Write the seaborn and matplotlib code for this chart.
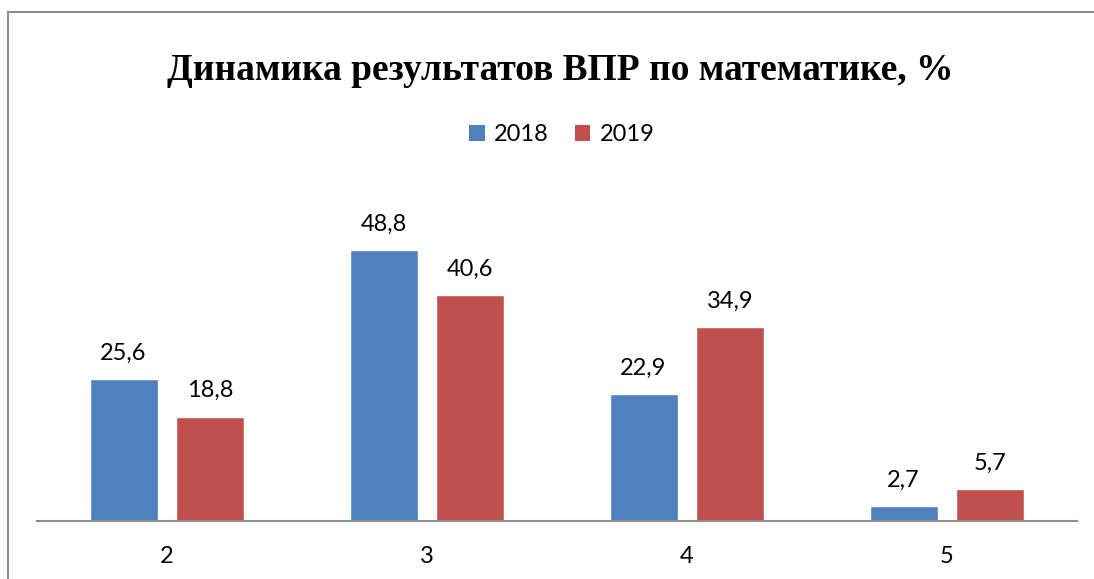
import matplotlib
matplotlib.use("Agg")
import matplotlib.pyplot as plt
import seaborn as sns
import pandas as pd
from matplotlib.patches import Rectangle, Patch

categories = ["2", "3", "4", "5"]
years = ["2018", "2019"]
values_2018 = [25.6, 48.8, 22.9, 2.7]
values_2019 = [18.8, 40.6, 34.9, 5.7]
colors = ["#4F81BD", "#C0504D"]
title = "Динамика результатов ВПР по математике, %"

df = pd.DataFrame({
    "cat": categories * 2,
    "year": [years[0]] * 4 + [years[1]] * 4,
    "val": values_2018 + values_2019,
})

sns.set_theme(style="white")
plt.rcParams["font.family"] = ["Lato", "DejaVu Sans"]
plt.rcParams["text.color"] = "black"
plt.rcParams["xtick.color"] = "black"

W, H = 1094, 579
fig = plt.figure(figsize=(W / 100, H / 100), dpi=100)
ax = fig.add_axes([37 / W, 1 - 521 / H, (1077 - 37) / W, (521 - 180) / H])

sns.barplot(data=df, x="cat", y="val", hue="year", palette=colors,
            width=0.669, gap=0.218, ax=ax, legend=False, saturation=1)

ax.set_xlim(-0.5, 3.5)
ax.set_ylim(0, (521 - 180) / 5.555)
ax.set_xlabel("")
ax.set_ylabel("")
ax.set_yticks([])
for s in ["left", "right", "top"]:
    ax.spines[s].set_visible(False)
ax.spines["bottom"].set_color("#8c8c8c")
ax.spines["bottom"].set_linewidth(1.5)
ax.tick_params(axis="x", length=0, pad=18, labelsize=17, colors="black")

for cont in ax.containers:
    ax.bar_label(cont, labels=[f"{v:.1f}".replace(".", ",") for v in cont.datavalues],
                 padding=11, fontsize=17, color="black")

fig.text(560 / W, 1 - 70 / H, title, ha="center", va="center", color="black",
         fontsize=27, fontweight="bold", family=["Liberation Serif", "DejaVu Serif"])

handles = [Patch(facecolor=c, edgecolor="none") for c in colors]
fig.legend(handles, years, loc="center", bbox_to_anchor=(562 / W, 1 - 135 / H),
           ncol=2, frameon=False, fontsize=17, handlelength=0.65, handleheight=0.65,
           handletextpad=0.4, columnspacing=1.1, labelcolor="black")

fig.patches.append(Rectangle((8 / W, -0.1), 1.2, 1 - 12 / H + 0.1, transform=fig.transFigure,
                             fill=False, edgecolor="#8c8c8c", linewidth=1.5))

fig.savefig("out.png", dpi=100)
